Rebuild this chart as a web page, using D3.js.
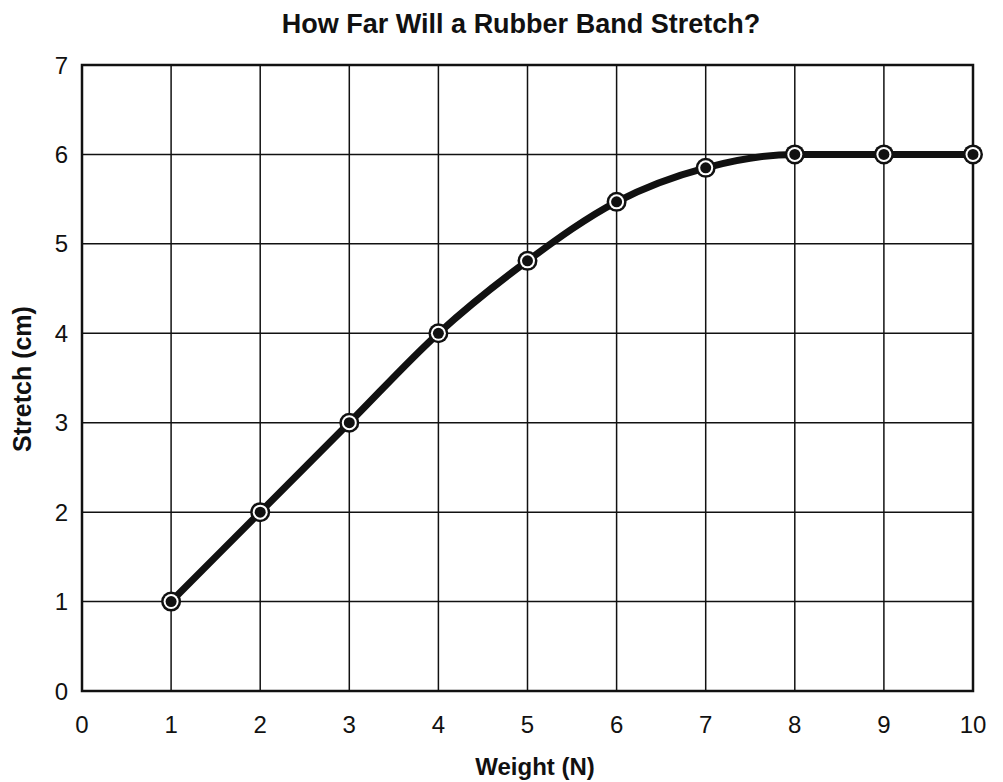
<!DOCTYPE html>
<html>
<head>
<meta charset="utf-8">
<script src="https://cdn.jsdelivr.net/npm/d3@7"></script>
<style>
  body { margin: 0; background: #fff; }
  text { font-family: "Liberation Sans", Arial, sans-serif; fill: #111; }
</style>
</head>
<body>
<div id="chart"></div>
<script>
// data
const weights = [1, 2, 3, 4, 5, 6, 7, 8, 9, 10];
const stretch = [1, 2, 3, 4, 4.81, 5.47, 5.85, 6, 6, 6];
const xTicks = [0, 1, 2, 3, 4, 5, 6, 7, 8, 9, 10];
const yTicks = [0, 1, 2, 3, 4, 5, 6, 7];

const width = 1003, height = 782;
const margin = { top: 65, right: 30, bottom: 91, left: 82 };

const svg = d3.select("#chart")
    .append("svg")
    .attr("width", width)
    .attr("height", height);

const x = d3.scaleLinear()
    .domain([0, 10])
    .range([margin.left, width - margin.right]);

const y = d3.scaleLinear()
    .domain([0, 7])
    .range([height - margin.bottom, margin.top]);

// grid lines
svg.append("g")
    .selectAll("line")
    .data(xTicks)
    .join("line")
    .attr("x1", d => x(d)).attr("x2", d => x(d))
    .attr("y1", y(0)).attr("y2", y(7))
    .attr("stroke", "#111")
    .attr("stroke-width", 1.5);

svg.append("g")
    .selectAll("line")
    .data(yTicks)
    .join("line")
    .attr("x1", x(0)).attr("x2", x(10))
    .attr("y1", d => y(d)).attr("y2", d => y(d))
    .attr("stroke", "#111")
    .attr("stroke-width", 1.5);

// frame
svg.append("rect")
    .attr("x", x(0))
    .attr("y", y(7))
    .attr("width", x(10) - x(0))
    .attr("height", y(0) - y(7))
    .attr("fill", "none")
    .attr("stroke", "#111")
    .attr("stroke-width", 2.5);

// tick labels
svg.append("g")
    .selectAll("text")
    .data(xTicks)
    .join("text")
    .attr("x", d => x(d))
    .attr("y", 733)
    .attr("text-anchor", "middle")
    .style("font-size", "24px")
    .text(d => d);

svg.append("g")
    .selectAll("text")
    .data(yTicks)
    .join("text")
    .attr("x", x(0) - 14)
    .attr("y", d => y(d))
    .attr("dy", "0.36em")
    .attr("text-anchor", "end")
    .style("font-size", "24px")
    .text(d => d);

// curve
const pts = weights.map((w, i) => ({ w: w, s: stretch[i] }));

const line = d3.line()
    .x(d => x(d.w))
    .y(d => y(d.s))
    .curve(d3.curveMonotoneX);

svg.append("path")
    .datum(pts)
    .attr("d", line)
    .attr("fill", "none")
    .attr("stroke", "#111")
    .attr("stroke-width", 7);

// markers
const marks = svg.append("g")
    .selectAll("g")
    .data(pts)
    .join("g")
    .attr("transform", d => `translate(${x(d.w)},${y(d.s)})`);

marks.append("circle")
    .attr("r", 10)
    .attr("fill", "#111");
marks.append("circle")
    .attr("r", 7.5)
    .attr("fill", "#fff");
marks.append("circle")
    .attr("r", 5.5)
    .attr("fill", "#111");

// titles
svg.append("text")
    .attr("x", 521)
    .attr("y", 33)
    .attr("text-anchor", "middle")
    .style("font-size", "27px")
    .style("font-weight", "bold")
    .text("How Far Will a Rubber Band Stretch?");

svg.append("text")
    .attr("x", 535)
    .attr("y", 775)
    .attr("text-anchor", "middle")
    .style("font-size", "24px")
    .style("font-weight", "bold")
    .text("Weight (N)");

svg.append("text")
    .attr("transform", `translate(31, 379) rotate(-90)`)
    .attr("text-anchor", "middle")
    .style("font-size", "25px")
    .style("font-weight", "bold")
    .text("Stretch (cm)");
</script>
</body>
</html>
